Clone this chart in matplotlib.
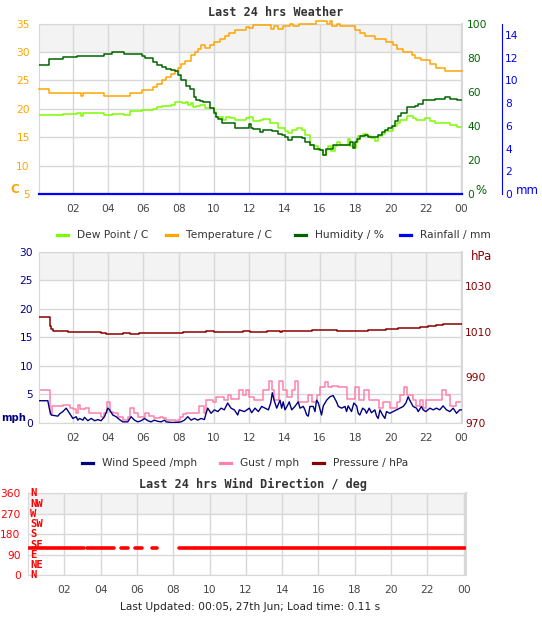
import matplotlib
matplotlib.use("Agg")
import matplotlib.pyplot as plt
import matplotlib.transforms as mtransforms
from matplotlib.lines import Line2D

plt.rcParams["font.family"] = "DejaVu Sans"

# ---- values (x = hours since 00:00 yesterday) ----
temp_hours = [0.08, 0.64, 2.45, 2.60, 3.75, 5.23, 5.89, 6.55, 6.77, 7.06, 7.25, 7.55, 7.77,
              7.96, 8.15, 8.34, 8.68, 8.91, 9.09, 9.28, 9.47, 9.75, 9.98, 10.32, 10.64,
              10.83, 11.17, 11.83, 12.0, 12.2, 13.2, 13.4, 13.6, 13.9, 14.3, 14.5, 14.8,
              15.8, 16.4, 16.55, 16.7, 16.98, 17.13, 17.98, 18.26, 18.55, 19.11, 19.77,
              20.15, 20.34, 20.72, 21.19, 21.38, 21.75, 22.23, 22.55, 23.08, 24.05]
temp_c = [23.4, 22.7, 22.3, 22.7, 22.2, 22.7, 23.3, 23.8, 24.4, 25.0, 25.6, 26.1, 26.6,
          27.2, 27.8, 28.4, 29.4, 30.0, 30.6, 31.2, 30.7, 31.2, 31.8, 32.3, 32.8,
          33.4, 33.9, 34.4, 34.2, 34.7, 34.1, 34.5, 34.0, 34.5, 34.9, 34.5, 35.0,
          35.5, 35.0, 35.5, 34.6, 35.0, 34.6, 33.9, 33.4, 32.8, 32.2, 31.7,
          31.2, 30.6, 30.0, 29.5, 29.0, 28.5, 27.9, 27.2, 26.7, 26.7]

dew_hours = [0.08, 1.45, 2.26, 2.45, 2.58, 3.75, 4.23, 4.91, 5.23, 5.89, 6.55, 6.77, 7.06,
             7.55, 7.77, 8.19, 8.43, 8.53, 8.68, 8.81, 9.0, 9.19, 9.47, 9.98, 10.13, 10.23,
             10.51, 10.70, 10.89, 11.17, 11.83, 11.96, 12.23, 12.6, 12.8, 13.17, 13.64,
             14.02, 14.21, 14.4, 14.68, 14.96, 15.15, 15.43, 15.68, 15.91, 16.15, 16.34,
             16.47, 16.62, 16.85, 16.98, 17.13, 17.6, 17.7, 17.89, 18.04, 18.17, 18.45,
             18.64, 18.92, 19.11, 19.3, 19.49, 19.68, 20.15, 20.34, 20.53, 20.91, 21.28,
             21.47, 21.94, 22.23, 22.51, 23.36, 23.74, 24.05]
dew_c = [18.9, 19.1, 19.3, 18.7, 19.3, 18.9, 19.0, 18.9, 19.6, 19.7, 20.0, 20.3, 20.4,
         20.7, 21.1, 21.0, 21.1, 20.6, 21.0, 20.3, 20.5, 20.6, 20.2, 19.4, 18.6, 18.5,
         18.0, 18.5, 18.3, 18.0, 18.4, 18.6, 17.8, 18.1, 18.2, 17.5, 16.6,
         16.0, 15.8, 16.2, 16.7, 16.2, 15.3, 13.7, 13.4, 12.8, 11.9, 12.8,
         13.5, 12.6, 13.4, 14.1, 13.7, 14.6, 13.4, 13.1, 14.2, 15.2, 15.5,
         15.2, 14.8, 14.3, 15.2, 15.5, 16.0, 16.9, 17.5, 18.1, 18.7, 18.3,
         18.1, 18.4, 17.8, 17.5, 17.1, 16.8, 16.8]

hum_hours = [0.08, 0.64, 1.45, 2.26, 3.75, 4.23, 4.91, 5.89, 6.08, 6.55, 6.77, 7.06, 7.25,
             7.55, 7.77, 7.96, 8.15, 8.43, 8.66, 8.87, 9.0, 9.19, 9.38, 9.79, 9.98, 10.13,
             10.23, 10.47, 11.17, 11.96, 12.11, 12.23, 12.6, 12.8, 13.26, 13.64, 13.83,
             14.02, 14.21, 14.4, 14.96, 15.15, 15.43, 15.68, 16.0, 16.15, 16.34, 16.75,
             17.7, 17.89, 17.98, 18.08, 18.26, 18.55, 18.74, 19.3, 19.49, 19.68, 19.87,
             20.06, 20.25, 20.43, 20.57, 20.91, 21.38, 21.57, 21.85, 22.51, 23.08, 23.36,
             23.74, 24.05]
hum_pct = [75.9, 79.1, 80.2, 80.8, 82.0, 83.2, 82.2, 80.8, 79.5, 77.3, 75.9, 74.6, 73.4,
           73.0, 72.0, 69.7, 66.7, 63.2, 61.3, 56.8, 55.4, 54.4, 53.8, 50.5, 47.3, 45.3,
           44.2, 41.5, 38.7, 41.1, 39.0, 38.2, 36.2, 37.4, 36.8, 35.2, 34.4,
           33.5, 31.7, 33.5, 32.9, 30.5, 28.6, 26.6, 26.0, 23.1, 26.4, 28.6,
           30.5, 27.0, 30.5, 32.5, 33.9, 34.8, 33.3, 34.8, 36.4, 37.8, 38.7,
           39.7, 42.7, 45.6, 47.6, 50.9, 51.7, 52.8, 55.0, 55.8, 56.8, 55.8,
           55.2, 55.2]

rain_hours = [0.08, 24.05]
rain_mm = [0.0, 0.0]

wind_hours = [0.09, 0.58, 0.68, 0.77, 1.15, 1.25, 1.43, 1.62, 1.81, 2.0, 2.19, 2.28, 2.38,
              2.57, 2.66, 2.85, 3.04, 3.23, 3.42, 3.6, 3.79, 3.98, 4.08, 4.26, 4.45, 4.64,
              4.83, 5.11, 5.3, 5.49, 5.68, 5.87, 6.06, 6.25, 6.43, 6.62, 6.81, 7.0, 7.19,
              7.28, 7.57, 7.94, 8.13, 8.32, 8.51, 8.7, 8.89, 9.08, 9.26, 9.45, 9.55, 9.64,
              9.83, 10.02, 10.21, 10.4, 10.58, 10.77, 10.96, 11.15, 11.34, 11.43, 11.72,
              12.0, 12.13, 12.32, 12.51, 12.7, 12.89, 13.08, 13.21, 13.3, 13.4, 13.55,
              13.74, 13.83, 13.92, 14.02, 14.15, 14.26, 14.4, 14.58, 14.77, 14.87, 15.06,
              15.15, 15.25, 15.34, 15.43, 15.62, 15.72, 15.81, 15.91, 16.09, 16.19, 16.38,
              16.57, 16.75, 16.94, 17.04, 17.23, 17.42, 17.51, 17.6, 17.79, 17.92, 18.08,
              18.17, 18.26, 18.42, 18.55, 18.64, 18.79, 18.92, 19.11, 19.21, 19.3, 19.4,
              19.55, 19.68, 19.77, 19.96, 20.15, 20.34, 20.53, 20.72, 20.87, 21.0, 21.09,
              21.28, 21.47, 21.57, 21.75, 21.85, 22.0, 22.23, 22.42, 22.6, 22.79, 22.98,
              23.17, 23.36, 23.55, 23.74, 23.92, 24.02]
wind_mph = [3.9, 3.9, 2.3, 1.4, 1.2, 1.6, 2.0, 2.6, 1.7, 0.8, 1.1, 0.5, 0.8,
            0.5, 1.0, 0.4, 0.8, 0.4, 0.6, 0.4, 1.1, 2.6, 2.3, 1.4, 1.1, 0.6,
            0.2, 0.2, 1.1, 0.5, 0.2, 0.4, 0.8, 0.4, 0.2, 0.5, 0.3, 0.2, 0.5,
            0.2, 0.1, 0.1, 0.2, 0.5, 1.1, 0.5, 0.8, 0.5, 0.8, 0.6, 1.7, 2.6,
            1.7, 2.3, 2.0, 2.6, 2.3, 3.5, 2.6, 2.3, 1.4, 2.3, 2.0,
            2.6, 1.8, 2.6, 2.0, 2.9, 2.6, 2.3, 3.5, 5.3, 4.0, 2.6,
            4.0, 2.6, 3.7, 2.3, 3.0, 3.7, 2.3, 2.9, 3.7, 2.6, 2.9,
            2.3, 1.4, 1.2, 2.9, 2.9, 2.0, 4.0, 3.5, 1.4, 3.0, 4.0,
            4.6, 4.8, 3.7, 2.9, 2.6, 2.9, 2.0, 3.0, 2.0, 3.5, 3.0,
            1.7, 1.4, 2.6, 2.3, 1.7, 2.6, 1.8, 2.3, 1.2, 0.8, 2.3,
            1.4, 0.8, 2.0, 1.7, 2.0, 2.3, 2.6, 2.9, 3.5, 4.6, 4.0,
            2.9, 2.6, 2.0, 2.9, 2.3, 2.0, 2.6, 2.3, 2.6, 2.3, 3.0,
            2.3, 2.0, 2.6, 1.7, 2.3, 2.3]

gust_hours = [0.09, 0.68, 0.81, 1.15, 1.43, 1.81, 2.0, 2.19, 2.28, 2.43, 2.66, 2.94, 3.6,
              3.79, 3.94, 4.08, 4.26, 4.55, 4.83, 5.11, 5.26, 5.45, 5.68, 6.06, 6.34, 6.62,
              6.91, 7.09, 7.28, 7.57, 7.85, 7.94, 8.09, 8.23, 8.42, 9.17, 9.45, 9.55, 9.92,
              10.11, 10.58, 10.77, 10.96, 11.43, 11.62, 11.81, 12.0, 12.26, 12.79, 13.13,
              13.26, 13.4, 13.7, 13.89, 14.11, 14.4, 14.58, 14.77, 15.34, 15.53, 15.81,
              16.0, 16.28, 16.47, 16.66, 17.04, 17.51, 17.98, 18.23, 18.49, 18.79, 19.36,
              19.58, 19.96, 20.34, 20.53, 20.75, 20.91, 21.28, 21.47, 21.66, 21.85, 22.0,
              22.89, 23.17, 23.36, 23.7, 24.05]
gust_mph = [5.8, 1.5, 2.9, 3.0, 3.2, 2.7, 2.4, 1.7, 3.2, 2.4, 2.7, 1.7, 1.0,
            1.7, 3.7, 2.0, 1.7, 1.0, 0.5, 1.1, 2.6, 1.7, 1.0, 1.7, 1.2, 0.8,
            1.1, 0.8, 0.5, 0.6, 0.2, 0.5, 1.1, 1.6, 1.7, 2.9, 1.7, 4.0, 3.7,
            4.5, 4.0, 4.9, 4.2, 5.8, 4.9, 5.8, 4.5, 4.0, 5.8, 7.3,
            5.8, 4.0, 7.3, 5.8, 4.5, 5.8, 7.3, 3.7, 4.9, 3.7, 4.9,
            6.3, 7.1, 6.3, 6.5, 6.3, 4.2, 6.3, 4.0, 5.8, 4.0, 2.6,
            3.6, 2.6, 3.6, 4.9, 6.3, 4.9, 4.0, 3.0, 4.0, 2.6, 4.0,
            5.8, 4.9, 3.0, 3.6, 3.6]

press_hours = [0.09, 0.68, 0.77, 0.87, 1.72, 3.23, 3.6, 3.89, 4.83, 5.21, 5.77, 7.0, 8.23,
               9.55, 10.02, 11.34, 11.62, 12.04, 12.98, 13.74, 13.83, 15.53, 16.19, 16.94,
               18.74, 19.77, 20.43, 21.66, 22.13, 22.6, 22.98, 23.74, 24.05]
press_hpa = [1016.5, 1012.6, 1011.2, 1010.4, 1010.0, 1009.7, 1009.3, 1009.0, 1009.3, 1009.0,
             1009.3, 1009.5, 1009.7, 1010.1, 1009.7, 1010.0, 1010.1, 1010.0, 1010.4, 1010.0,
             1010.4, 1010.6, 1010.8, 1010.4, 1010.8, 1011.1, 1011.5, 1012.0, 1012.4, 1012.8,
             1013.2, 1013.5, 1013.5]

# wind direction: recorded stretches (start, end) at a constant bearing
dir_start = [0.07, 3.23, 5.11, 5.90, 6.81, 8.34, 9.20]
dir_end = [3.08, 4.74, 5.53, 6.26, 7.12, 9.15, 24.08]
dir_deg = [120, 120, 120, 120, 120, 120, 120]

hour_ticks = [2, 4, 6, 8, 10, 12, 14, 16, 18, 20, 22, 24]
hour_labels = ["02", "04", "06", "08", "10", "12", "14", "16", "18", "20", "22", "00"]
compass = ["N", "NE", "E", "SE", "S", "SW", "W", "NW", "N"]

top_legend = ["Dew Point / C", "Temperature / C", "Humidity / %", "Rainfall / mm"]
mid_legend = ["Wind Speed /mph", "Gust / mph", "Pressure / hPa"]

GRID = "#d8d8d8"
BAND = "#f3f3f3"
TICKC = "#444444"
FS = 7.7
W, H = 542, 619

fig = plt.figure(figsize=(5.42, 6.19), dpi=100)


def px(x, y):
    return x / W, 1 - y / H


def frame(ax, ylim, step, grey_from, xlim):
    ax.set_xlim(*xlim)
    ax.set_ylim(*ylim)
    lo, hi = ylim
    y = grey_from
    while y < hi:
        ax.axhspan(y, y + step, color=BAND, lw=0, zorder=0)
        y += 2 * step
    for v in range(int(lo), int(hi) + 1, step):
        ax.axhline(v, color=GRID, lw=1, zorder=0.5)
    for h in hour_ticks:
        ax.axvline(h, color=GRID, lw=1, zorder=0.5)
    for s in ax.spines.values():
        s.set_color(GRID)
    ax.spines["right"].set_linewidth(1.5)
    ax.set_xticks(hour_ticks)
    ax.set_xticklabels(hour_labels)
    ax.tick_params(axis="x", length=0, labelsize=FS, colors=TICKC, pad=7)
    ax.tick_params(axis="y", length=0, labelsize=FS)


def legend_row(xs, y, labels, colors):
    for x, lab, c in zip(xs, labels, colors):
        fig.add_artist(Line2D([x / W, (x + 11) / W], [1 - y / H, 1 - y / H],
                              color=c, lw=2.3, transform=fig.transFigure))
        fig.text(*px(x + 20, y), lab, ha="left", va="center", size=FS, color="#333333")


# ---------------- top: temperature / humidity / rain ----------------
ax1 = fig.add_axes([39 / W, 1 - 194 / H, 423 / W, 170.5 / H])
frame(ax1, (5, 35), 5, 30, (0.08, 24.05))
ax1.set_yticks(range(5, 36, 5))
ax1.tick_params(axis="y", colors="#ffa500", pad=6.5)
ax1.plot(dew_hours, dew_c, color="#7cfc00", lw=1.1, drawstyle="steps-post", zorder=3)
ax1.plot(temp_hours, temp_c, color="#ffa500", lw=1.1, drawstyle="steps-post", zorder=3,
         clip_on=False)

ax1h = ax1.twinx()
ax1h.set_ylim(0, 100)
ax1h.set_yticks(range(0, 101, 20))
ax1h.tick_params(axis="y", length=0, labelsize=FS, colors="#006400", pad=3.6)
for s in ax1h.spines.values():
    s.set_visible(False)
ax1h.plot(hum_hours, hum_pct, color="#006400", lw=1.1, drawstyle="steps-post")

ax1r = ax1.twinx()
ax1r.set_ylim(0, 15)
ax1r.set_yticks(range(0, 15, 2))
for s in ax1r.spines.values():
    s.set_visible(False)
ax1r.spines["right"].set_visible(True)
ax1r.spines["right"].set_position(("axes", (502 - 39) / 423))
ax1r.spines["right"].set_color("#0000ff")
ax1r.tick_params(axis="y", length=0, labelsize=FS, colors="#0000ff", pad=2.2)
ax1r.plot(rain_hours, rain_mm, color="#0000ff", lw=1.6, clip_on=False)

fig.text(*px(275.5, 13), "Last 24 hrs Weather", ha="center", va="center",
         family="DejaVu Sans Mono", weight="bold", size=8.5, color="#333333")
fig.text(*px(15, 189), "C", ha="center", va="center", weight="bold", size=8.5,
         color="#ffa500")
fig.text(*px(481, 191), "%", ha="center", va="center", size=8.5, color="#006400")
fig.text(*px(527, 191), "mm", ha="center", va="center", size=8.5, color="#0000ff")

legend_row([57, 166, 295, 400], 235, top_legend,
           ["#7cfc00", "#ffa500", "#006400", "#0000ff"])

# ---------------- middle: wind / gust / pressure ----------------
ax2 = fig.add_axes([39 / W, 1 - 423 / H, 423 / W, 171.3 / H])
frame(ax2, (0, 30), 5, 25, (0.08, 24.05))
ax2.set_yticks(range(0, 31, 5))
ax2.tick_params(axis="y", colors="#000080", pad=4.3)
ax2.plot(wind_hours, wind_mph, color="#000080", lw=1.0, zorder=3)
ax2.plot(gust_hours, gust_mph, color="#ff80aa", lw=1.1, drawstyle="steps-post", zorder=2.5)

ax2p = ax2.twinx()
ax2p.set_ylim(970, 1045)
ax2p.set_yticks([970, 990, 1010, 1030])
ax2p.tick_params(axis="y", length=0, labelsize=FS, colors="#8b0000", pad=2.2)
for s in ax2p.spines.values():
    s.set_visible(False)
ax2p.plot(press_hours, press_hpa, color="#8b0000", lw=1.1, drawstyle="steps-post")

fig.text(*px(1.5, 418), "mph", ha="left", va="center", weight="bold", size=7.2,
         color="#000080")
fig.text(*px(482, 257), "hPa", ha="center", va="center", size=8.5, color="#8b0000")

legend_row([82, 220, 313], 463, mid_legend, ["#000080", "#ff80aa", "#8b0000"])

# ---------------- bottom: wind direction ----------------
ax3 = fig.add_axes([28.3 / W, 1 - 575.3 / H, 437.4 / W, 82 / H])
frame(ax3, (0, 360), 90, 270, (0.017, 24.11))
ax3.set_yticks([0, 90, 180, 270, 360])
ax3.tick_params(axis="y", colors="#ff0000", pad=5.5)
for s, e, d in zip(dir_start, dir_end, dir_deg):
    ax3.plot([s, e], [d, d], color="#ff0000", lw=2.6, solid_capstyle="round", zorder=5)

trans = mtransforms.blended_transform_factory(ax3.transAxes, ax3.transData)
for i, name in enumerate(compass):
    ax3.text(0.004, i * 45, name, transform=trans, ha="left", va="center",
             family="DejaVu Sans Mono", weight="bold", size=7.6, color="#ff0000",
             clip_on=False, zorder=4)

fig.text(*px(253, 484), "Last 24 hrs Wind Direction / deg", ha="center", va="center",
         family="DejaVu Sans Mono", weight="bold", size=8.5, color="#333333")
fig.text(*px(250, 607), "Last Updated: 00:05, 27th Jun; Load time: 0.11 s",
         ha="center", va="center", size=FS, color="#222222")

fig.savefig("out.png", dpi=100)
